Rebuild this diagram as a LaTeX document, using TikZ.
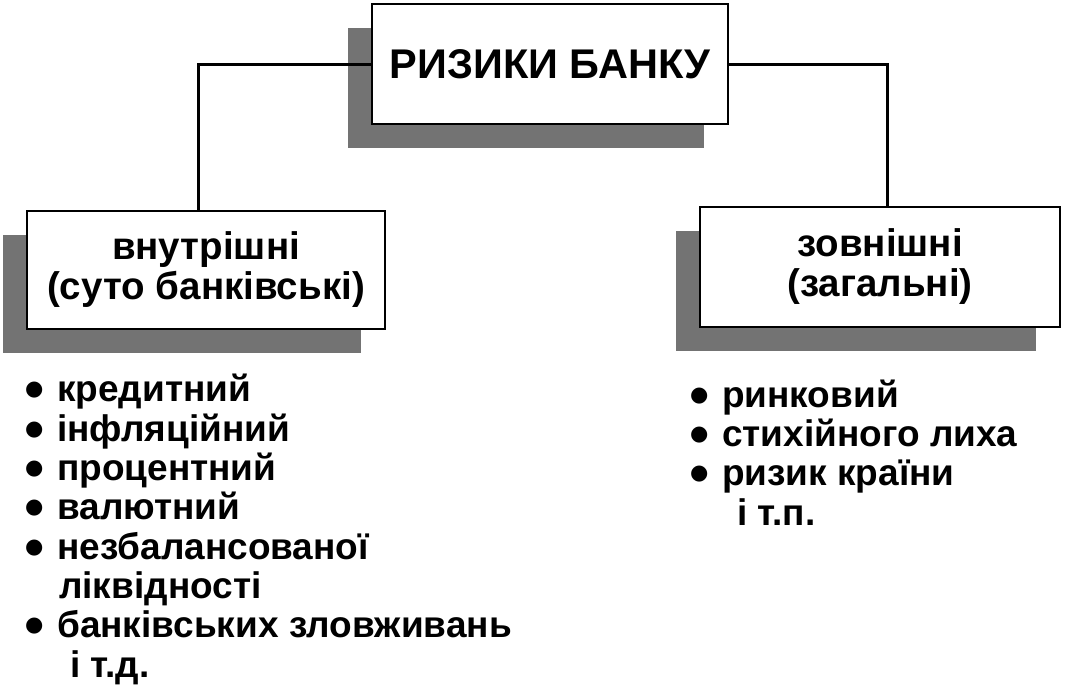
\documentclass[tikz,border=0pt]{standalone}
\usepackage{fontspec}
\setmainfont{Liberation Sans}
\newfontfamily\dotfont{DejaVu Sans}
\usetikzlibrary{positioning,shadows}

\tikzset{
  riskbox/.style={draw,line width=2pt,fill=white,inner sep=0pt,align=center,
                  drop shadow={shadow xshift=-24pt,shadow yshift=-24pt,
                               fill=black!55,opacity=1}},
  riskline/.style={line width=3pt},
  risklist/.style={align=left,inner sep=0pt,
                   font=\bfseries\fontsize{37}{39.3}\selectfont}
}
\newcommand\itm{\makebox[32pt][l]{\raisebox{6pt}{\dotfont\fontsize{21}{21}\selectfont●}}}

\begin{document}
\begin{tikzpicture}[x=1pt,y=-1pt]
  \useasboundingbox (0,0) rectangle (1067,685);

  \node[riskbox,minimum width=356pt,minimum height=120pt,
        font=\bfseries\fontsize{41.5}{40}\selectfont] (banks) at (550,64) {РИЗИКИ БАНКУ};
  \node[riskbox,minimum width=358pt,minimum height=118pt,
        font=\bfseries\fontsize{38.5}{40}\selectfont] (inner) at (206,270)
        {внутрішні\\(суто банківські)};
  \node[riskbox,minimum width=360pt,minimum height=120pt,
        font=\bfseries\fontsize{38.5}{40}\selectfont] (outer) at (880,267)
        {зовнішні\\(загальні)};

  \draw[riskline] (banks.west) -| ([xshift=-8pt]inner.north);
  \draw[riskline] (banks.east) -| ([xshift=7pt]outer.north);

  % kinds of risk under each box
  \node[risklist,anchor=base west] (innerlist) at (25,677)
        {\itm кредитний\\ \itm інфляційний\\ \itm процентний\\ \itm валютний\\
         \itm незбалансованої\\ \hspace*{34pt}ліквідності\\
         \itm банківських зловживань\\ \hspace*{45pt}і т.д.};
  \node[risklist,anchor=base west] (outerlist) at (690,525)
        {\itm ринковий\\ \itm стихійного лиха\\ \itm ризик країни\\
         \hspace*{47pt}і т.п.};
\end{tikzpicture}
\end{document}
